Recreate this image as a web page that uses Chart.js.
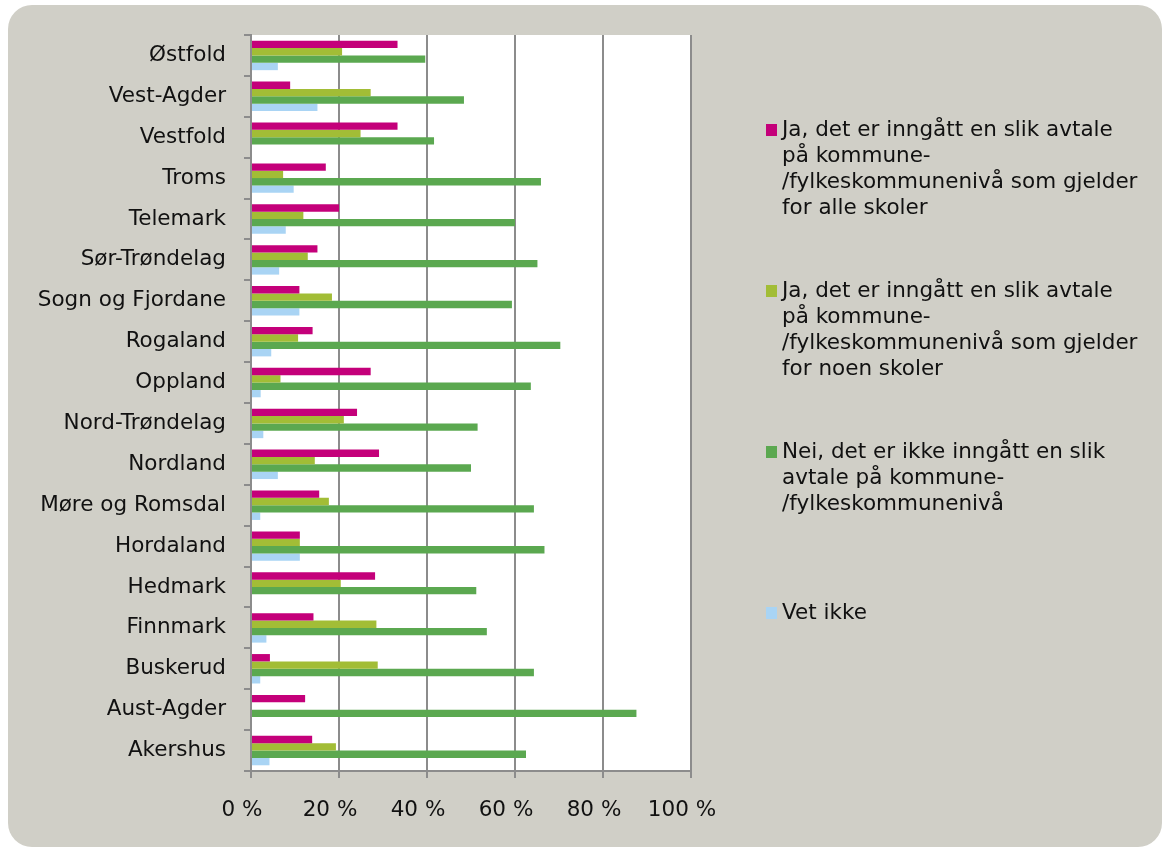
<!DOCTYPE html>
<html>
<head>
	<meta charset="utf-8">
	<title>Avtale på kommune-/fylkeskommunenivå</title>
	<script src="https://cdn.jsdelivr.net/npm/chart.js@4.4.1/dist/chart.umd.min.js"></script>
	<style>
		html, body { margin: 0; padding: 0; background: #ffffff; }
		#wrap { width: 1162px; height: 847px; position: relative; }
	</style>
</head>
<body>

	<div id="wrap"><canvas id="mychart" width="1162" height="847"></canvas></div>

	<script type="text/javascript">

		const fylker = ['Østfold', 'Vest-Agder', 'Vestfold', 'Troms', 'Telemark', 'Sør-Trøndelag',
			'Sogn og Fjordane', 'Rogaland', 'Oppland', 'Nord-Trøndelag', 'Nordland', 'Møre og Romsdal',
			'Hordaland', 'Hedmark', 'Finnmark', 'Buskerud', 'Aust-Agder', 'Akershus'];

		const jaAlle  = [33.3, 8.9, 33.3, 17.0, 20.0, 15.1, 11.0, 14.0, 27.2, 24.1, 29.1, 15.5, 11.1, 28.2, 14.2, 4.3, 12.3, 13.9];
		const jaNoen  = [20.7, 27.2, 24.9, 7.3, 11.9, 12.9, 18.4, 10.7, 6.7, 21.1, 14.5, 17.7, 11.1, 20.4, 28.5, 28.8, 0, 19.3];
		const nei     = [39.6, 48.4, 41.6, 65.9, 60.0, 65.1, 59.3, 70.3, 63.6, 51.5, 50.0, 64.3, 66.7, 51.2, 53.6, 64.3, 87.6, 62.5];
		const vetIkke = [6.1, 15.1, 0, 9.7, 7.9, 6.4, 11.0, 4.6, 2.2, 2.8, 6.1, 2.1, 11.1, 0, 3.5, 2.1, 0, 4.2];

		const xTicks = [0, 20, 40, 60, 80, 100];

		// legend text, already broken into lines
		const legendLines = [
			['Ja, det er inngått en slik avtale', 'på kommune-', '/fylkeskommunenivå som gjelder', 'for alle skoler'],
			['Ja, det er inngått en slik avtale', 'på kommune-', '/fylkeskommunenivå som gjelder', 'for noen skoler'],
			['Nei, det er ikke inngått en slik', 'avtale på kommune-', '/fylkeskommunenivå'],
			['Vet ikke']
		];

		const colors = ['#c4007a', '#a2bd36', '#5ba850', '#a9d4f4'];
		const FONT = '"DejaVu Sans", Verdana, sans-serif';
		const FONT_SIZE = 21.5;

		// grey rounded panel behind everything, white plot area
		const background = {
			id: 'background',
			beforeDraw(chart) {
				const ctx = chart.ctx;
				const a = chart.chartArea;
				ctx.save();
				ctx.fillStyle = '#d0cfc7';
				ctx.beginPath();
				ctx.roundRect(8, 5, 1154, 842, 24);
				ctx.fill();
				ctx.fillStyle = '#ffffff';
				ctx.fillRect(a.left, a.top, a.right - a.left, a.bottom - a.top);
				ctx.restore();
			}
		};

		// multi-line legend on the right
		const sideLegend = {
			id: 'sideLegend',
			afterDraw(chart) {
				const ctx = chart.ctx;
				ctx.save();
				ctx.font = FONT_SIZE + 'px ' + FONT;
				ctx.textBaseline = 'middle';
				ctx.textAlign = 'left';
				chart.data.datasets.forEach((ds, i) => {
					const y0 = 130 + i * 161;
					ctx.fillStyle = ds.backgroundColor;
					ctx.fillRect(766, y0 - 6, 11, 12);
					ctx.fillStyle = '#111111';
					legendLines[i].forEach((line, j) => {
						ctx.fillText(line, 782, y0 + j * 26);
					});
				});
				ctx.restore();
			}
		};

		const ctx = document.getElementById('mychart').getContext('2d');

		const myChart = new Chart(ctx, {
			type: 'bar',
			data: {
				labels: fylker,
				datasets: [
					{ label: legendLines[0].join(' '), data: jaAlle, backgroundColor: colors[0] },
					{ label: legendLines[1].join(' '), data: jaNoen, backgroundColor: colors[1] },
					{ label: legendLines[2].join(' '), data: nei, backgroundColor: colors[2] },
					{ label: legendLines[3].join(' '), data: vetIkke, backgroundColor: colors[3] }
				]
			},
			options: {
				indexAxis: 'y',
				responsive: false,
				animation: false,
				categoryPercentage: 0.72,
				barPercentage: 1.0,
				layout: { padding: { left: 0, top: 35, right: 471, bottom: 0 } },
				plugins: {
					legend: { display: false },
					tooltip: { enabled: false }
				},
				scales: {
					x: {
						min: 0,
						max: 100,
						afterBuildTicks(scale) {
							scale.ticks = xTicks.map(v => ({ value: v }));
						},
						afterFit(scale) { scale.height = 76; },
						grid: { color: '#8c8c8c', lineWidth: 2, tickLength: 7 },
						border: { color: '#8c8c8c', width: 2 },
						ticks: {
							color: '#111111',
							font: { family: FONT, size: FONT_SIZE },
							padding: 20,
							labelOffset: -9,
							maxRotation: 0,
							callback: v => v + ' %'
						}
					},
					y: {
						afterFit(scale) { scale.width = 251; },
						grid: { drawOnChartArea: false, color: '#8c8c8c', lineWidth: 2, tickLength: 7 },
						border: { color: '#8c8c8c', width: 2 },
						ticks: {
							color: '#111111',
							font: { family: FONT, size: FONT_SIZE },
							padding: 18,
							autoSkip: false
						}
					}
				}
			},
			plugins: [background, sideLegend]
		});

	</script>

</body>
</html>
